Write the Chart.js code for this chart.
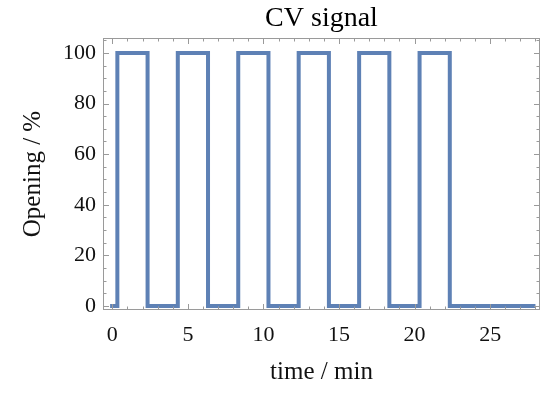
<!DOCTYPE html>
<html>
<head>
<meta charset="utf-8">
<script src="https://cdn.jsdelivr.net/npm/chart.js@4"></script>
<style>
  body { margin: 0; background: #fff; }
  canvas { display: block; }
</style>
</head>
<body>
<canvas id="cv-chart" width="544" height="394"></canvas>
<script>
// CV opening signal: times where the signal switches and the new value
const timeMin = [-0.15, 0.33, 2.33, 4.33, 6.33, 8.33, 10.33, 12.33, 14.33, 16.33, 18.33, 20.33, 22.33, 28];
const opening = [0, 100, 0, 100, 0, 100, 0, 100, 0, 100, 0, 100, 0, 0];

// tick labels
const xTicks = [0, 5, 10, 15, 20, 25];
const yTicks = [0, 20, 40, 60, 80, 100];

const serif = '"Liberation Serif", "DejaVu Serif", serif';
const frameColor = '#9a9a9a';

// Mathematica-like frame with inward ticks on all four sides
const frameTicks = {
    id: 'frameTicks',
    afterDraw(chart) {
        const { ctx, chartArea: a, scales } = chart;
        const x = scales.x, y = scales.y;
        ctx.save();
        ctx.strokeStyle = frameColor;
        ctx.lineWidth = 1;
        ctx.strokeRect(a.left + 0.5, a.top + 0.5, a.right - a.left - 1, a.bottom - a.top - 1);
        ctx.beginPath();
        for (let v = 0; v <= 28; v++) {
            const px = Math.round(x.getPixelForValue(v)) + 0.5;
            const len = v % 5 === 0 ? 6 : 3.5;
            ctx.moveTo(px, a.bottom); ctx.lineTo(px, a.bottom - len);
            ctx.moveTo(px, a.top); ctx.lineTo(px, a.top + len);
        }
        for (let v = 0; v <= 105; v += 5) {
            const py = Math.round(y.getPixelForValue(v)) + 0.5;
            const len = v % 20 === 0 ? 6 : 3.5;
            ctx.moveTo(a.left, py); ctx.lineTo(a.left + len, py);
            ctx.moveTo(a.right, py); ctx.lineTo(a.right - len, py);
        }
        ctx.stroke();
        ctx.restore();
    }
};

const ctx = document.getElementById('cv-chart').getContext('2d');
const myChart = new Chart(ctx, {
    type: 'line',
    data: {
        datasets: [{
            data: timeMin.map((t, i) => ({ x: t, y: opening[i] })),
            borderColor: '#5e81b5',
            borderWidth: 4,
            stepped: true,
            pointRadius: 0,
            fill: false,
            borderJoinStyle: 'miter',
        }],
    },
    options: {
        responsive: false,
        animation: false,
        layout: { padding: { left: 0, right: 4, top: 0, bottom: 0 } },
        plugins: {
            legend: { display: false },
            tooltip: { enabled: false },
            title: {
                display: true,
                fullSize: false,
                text: 'CV signal',
                color: '#000',
                font: { family: serif, size: 28, weight: 'normal', lineHeight: 1.2 },
                padding: { top: 2, bottom: 2.4 },
            },
        },
        scales: {
            x: {
                type: 'linear',
                min: -0.62,
                max: 28.3,
                afterBuildTicks: s => { s.ticks = xTicks.map(v => ({ value: v })); },
                afterFit: s => { s.height = 84; },
                grid: { display: false, drawTicks: false },
                border: { display: false },
                ticks: {
                    color: '#111',
                    padding: 12,
                    maxRotation: 0,
                    font: { family: serif, size: 22 },
                },
                title: {
                    display: true,
                    text: 'time / min',
                    color: '#111',
                    font: { family: serif, size: 25 },
                    padding: { top: 0, bottom: 7 },
                },
            },
            y: {
                min: -1.6,
                max: 105.9,
                afterBuildTicks: s => { s.ticks = yTicks.map(v => ({ value: v })); },
                afterFit: s => { s.width = 103; },
                grid: { display: false, drawTicks: false },
                border: { display: false },
                ticks: {
                    color: '#111',
                    padding: 7,
                    font: { family: serif, size: 22 },
                },
                title: {
                    display: true,
                    text: 'Opening / %',
                    color: '#111',
                    font: { family: serif, size: 25 },
                    padding: { top: 18, bottom: 0 },
                },
            },
        },
    },
    plugins: [frameTicks],
});
</script>
</body>
</html>
